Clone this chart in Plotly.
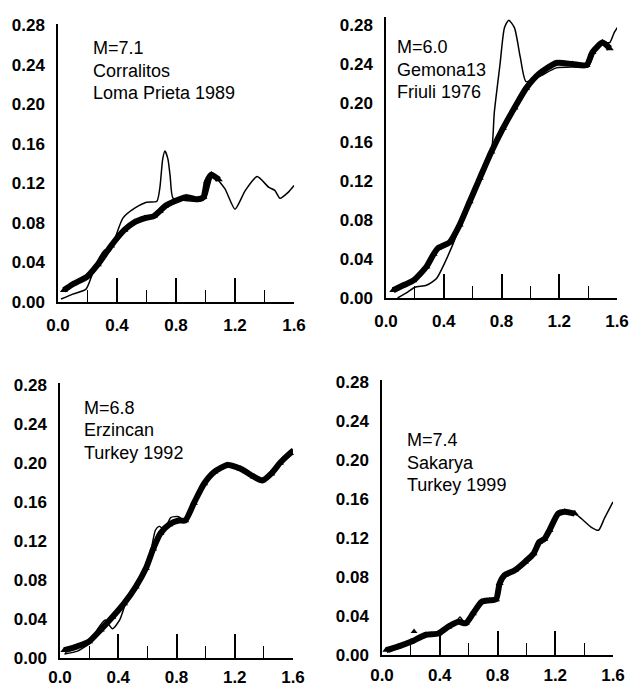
import plotly.graph_objects as go

# ---------------- data ----------------
# Panel 1: Corralitos, Loma Prieta 1989 (M=7.1)
lp_line_x = [0.02, 0.10, 0.19, 0.23, 0.27, 0.32, 0.35, 0.39, 0.44, 0.52, 0.60, 0.67, 0.69, 0.71, 0.725, 0.745, 0.76, 0.78, 0.85, 0.95, 1.00, 1.05, 1.13, 1.20, 1.27, 1.35, 1.43, 1.47, 1.505, 1.56, 1.60]
lp_line_y = [0.003, 0.008, 0.013, 0.027, 0.042, 0.053, 0.051, 0.066, 0.085, 0.095, 0.101, 0.102, 0.115, 0.145, 0.153, 0.145, 0.128, 0.105, 0.103, 0.102, 0.105, 0.128, 0.115, 0.094, 0.113, 0.127, 0.116, 0.113, 0.105, 0.111, 0.118]
lp_band_x = [0.04, 0.10, 0.20, 0.27, 0.36, 0.45, 0.52, 0.59, 0.65, 0.69, 0.725, 0.79, 0.87, 0.95, 0.985, 1.01, 1.04, 1.09]
lp_band_y = [0.012, 0.018, 0.026, 0.038, 0.057, 0.073, 0.081, 0.085, 0.087, 0.092, 0.097, 0.102, 0.106, 0.104, 0.106, 0.122, 0.129, 0.124]

# Panel 2: Gemona13, Friuli 1976 (M=6.0)
fr_line_x = [0.08, 0.15, 0.20, 0.28, 0.35, 0.41, 0.46, 0.52, 0.58, 0.65, 0.73, 0.75, 0.79, 0.82, 0.85, 0.89, 0.93, 0.97, 1.06, 1.18, 1.30, 1.40, 1.45, 1.50, 1.55, 1.58, 1.61]
fr_line_y = [0.000, 0.006, 0.011, 0.013, 0.020, 0.037, 0.054, 0.076, 0.099, 0.123, 0.150, 0.190, 0.240, 0.277, 0.285, 0.277, 0.247, 0.222, 0.227, 0.236, 0.237, 0.237, 0.255, 0.262, 0.262, 0.272, 0.279]
fr_band_x = [0.05, 0.12, 0.19, 0.28, 0.33, 0.36, 0.44, 0.51, 0.58, 0.65, 0.73, 0.81, 0.89, 0.97, 1.06, 1.18, 1.29, 1.39, 1.43, 1.50, 1.55]
fr_band_y = [0.008, 0.013, 0.018, 0.032, 0.045, 0.051, 0.057, 0.075, 0.099, 0.123, 0.150, 0.174, 0.195, 0.215, 0.230, 0.241, 0.240, 0.239, 0.252, 0.262, 0.256]

# Panel 3: Erzincan, Turkey 1992 (M=6.8)
er_line_x = [0.03, 0.12, 0.20, 0.26, 0.31, 0.36, 0.41, 0.46, 0.52, 0.57, 0.62, 0.655, 0.68, 0.72, 0.76, 0.815, 0.86, 0.92, 0.99, 1.06, 1.15, 1.24, 1.33, 1.39, 1.45, 1.51, 1.58, 1.605]
er_line_y = [0.004, 0.007, 0.015, 0.030, 0.039, 0.030, 0.039, 0.060, 0.075, 0.088, 0.107, 0.131, 0.135, 0.132, 0.144, 0.145, 0.140, 0.159, 0.179, 0.191, 0.198, 0.194, 0.186, 0.182, 0.189, 0.200, 0.210, 0.213]
er_band_x = [0.03, 0.12, 0.20, 0.28, 0.36, 0.44, 0.52, 0.59, 0.64, 0.69, 0.75, 0.815, 0.86, 0.92, 0.99, 1.06, 1.15, 1.24, 1.33, 1.39, 1.45, 1.51, 1.58, 1.605]
er_band_y = [0.008, 0.012, 0.017, 0.029, 0.042, 0.056, 0.073, 0.092, 0.112, 0.128, 0.137, 0.141, 0.141, 0.159, 0.179, 0.191, 0.198, 0.194, 0.186, 0.182, 0.189, 0.200, 0.210, 0.213]

# Panel 4: Sakarya, Turkey 1999 (M=7.4)
sk_line_x = [0.05, 0.11, 0.20, 0.30, 0.39, 0.46, 0.51, 0.54, 0.58, 0.63, 0.69, 0.745, 0.79, 0.815, 0.85, 0.92, 0.99, 1.05, 1.09, 1.16, 1.22, 1.265, 1.335, 1.38, 1.45, 1.50, 1.54, 1.60]
sk_line_y = [0.003, 0.007, 0.012, 0.020, 0.022, 0.029, 0.033, 0.039, 0.031, 0.041, 0.054, 0.057, 0.056, 0.073, 0.082, 0.087, 0.096, 0.104, 0.115, 0.128, 0.144, 0.146, 0.145, 0.140, 0.131, 0.128, 0.140, 0.157]
sk_band_x = [0.03, 0.11, 0.20, 0.30, 0.39, 0.46, 0.53, 0.58, 0.63, 0.69, 0.745, 0.79, 0.815, 0.85, 0.92, 0.99, 1.05, 1.09, 1.125, 1.16, 1.22, 1.265, 1.335]
sk_band_y = [0.005, 0.0085, 0.0135, 0.0205, 0.022, 0.029, 0.034, 0.0325, 0.0425, 0.0545, 0.056, 0.057, 0.0735, 0.082, 0.087, 0.0955, 0.104, 0.116, 0.119, 0.128, 0.145, 0.147, 0.145]
sk_extra_x = [0.222]
sk_extra_y = [0.024]

x_ticks = [0.0, 0.4, 0.8, 1.2, 1.6]
y_ticks = [0.00, 0.04, 0.08, 0.12, 0.16, 0.20, 0.24, 0.28]

labels = [
    ["M=7.1", "Corralitos", "Loma Prieta 1989"],
    ["M=6.0", "Gemona13", "Friuli 1976"],
    ["M=6.8", "Erzincan", "Turkey 1992"],
    ["M=7.4", "Sakarya", "Turkey 1999"],
]

# ---------------- figure ----------------
W, H = 630, 688
FONT = "Arial, Liberation Sans, sans-serif"

# pixel boxes of the four plot areas: (left, right, pixel of y=0, pixel of y=0.28)
boxes = [
    (58, 294, 302, 25.5),
    (386, 617, 298, 25),
    (60, 293, 658, 385),
    (382, 613, 655, 382),
]
ytop = [0.282, 0.288, 0.282, 0.282]   # upper end of each y range
x_standoff = [7, 7, 3, 4]
label_pos = [(91, 48), (395, 47), (82, 408), (405, 440)]
line_gap = 22.5

panels = [
    (lp_line_x, lp_line_y, lp_band_x, lp_band_y),
    (fr_line_x, fr_line_y, fr_band_x, fr_band_y),
    (er_line_x, er_line_y, er_band_x, er_band_y),
    (sk_line_x, sk_line_y, sk_band_x, sk_band_y),
]

fig = go.Figure()
layout = dict(
    width=W, height=H,
    margin=dict(l=0, r=0, t=0, b=0, autoexpand=False),
    paper_bgcolor="white", plot_bgcolor="white",
    showlegend=False,
    annotations=[],
)

for i, (lx, ly, bx, by) in enumerate(panels):
    n = "" if i == 0 else str(i + 1)
    xa, ya = "x" + n, "y" + n
    fig.add_trace(go.Scatter(
        x=bx, y=by, xaxis=xa, yaxis=ya, mode="lines+markers",
        line=dict(color="black", width=6, shape="spline", smoothing=0.6),
        marker=dict(symbol="triangle-up", size=7, color="black"),
        cliponaxis=False,
    ))
    fig.add_trace(go.Scatter(
        x=lx, y=ly, xaxis=xa, yaxis=ya, mode="lines",
        line=dict(color="black", width=1.5, shape="spline", smoothing=0.6),
        cliponaxis=False,
    ))
    if i == 3:
        fig.add_trace(go.Scatter(
            x=sk_extra_x, y=sk_extra_y, xaxis=xa, yaxis=ya, mode="markers",
            marker=dict(symbol="triangle-up", size=6, color="black"),
        ))
    l, r, b, t = boxes[i]
    top_px = b - (b - t) * ytop[i] / 0.28
    layout["xaxis" + n] = dict(
        domain=[l / W, r / W], anchor=ya, range=[0, 1.6],
        tickvals=x_ticks, tickformat=".1f", automargin=False,
        showline=True, linecolor="black", linewidth=1.5,
        ticks="inside", ticklen=24, tickwidth=1.5, tickcolor="black",
        minor=dict(dtick=0.2, tick0=0, ticks="inside", ticklen=12, tickwidth=1.2, tickcolor="black"),
        showgrid=False, zeroline=False,
        tickfont=dict(family=FONT, size=17, color="black", weight="bold"),
        ticklabelstandoff=x_standoff[i],
    )
    layout["yaxis" + n] = dict(
        domain=[1 - b / H, 1 - top_px / H], anchor=xa, range=[0, ytop[i]],
        tickvals=y_ticks, tickformat=".2f", automargin=False,
        showline=True, linecolor="black", linewidth=1.5,
        ticks="", showgrid=False, zeroline=False,
        tickfont=dict(family=FONT, size=17, color="black", weight="bold"),
        ticklabelstandoff=8,
    )
    px, py = label_pos[i]
    for k, txt in enumerate(labels[i]):
        layout["annotations"].append(dict(
            text=txt, xref="paper", yref="paper",
            x=px / W, y=1 - (py + k * line_gap) / H,
            xanchor="left", yanchor="middle", showarrow=False,
            font=dict(family=FONT, size=18, color="black"),
        ))

fig.update_layout(**layout)
fig.write_html("out.html",
               config={"displayModeBar": False},
               post_script="document.body.style.margin='0';document.body.style.overflow='hidden';")
